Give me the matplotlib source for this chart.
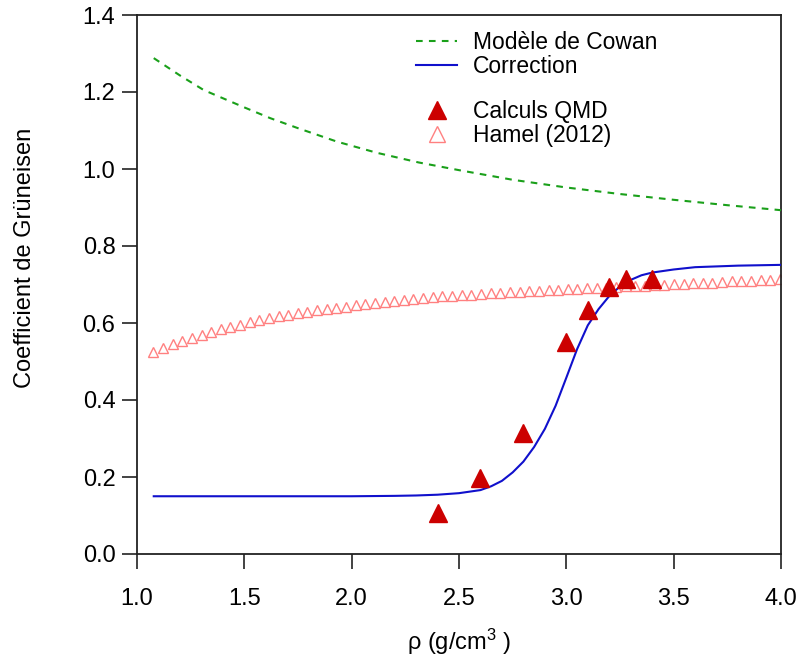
import matplotlib
matplotlib.use("Agg")
import matplotlib.pyplot as plt
from matplotlib.lines import Line2D

plt.rcParams['font.family'] = ['Liberation Sans', 'DejaVu Sans']
plt.rcParams['mathtext.fontset'] = 'custom'
plt.rcParams['mathtext.rm'] = 'Liberation Sans'
plt.rcParams['mathtext.it'] = 'Liberation Sans'

# Cowan model
cowan_rho = [1.078, 1.2, 1.311, 1.5, 1.621, 1.75, 1.932, 2.118, 2.312, 2.5, 2.75, 3.0, 3.25, 3.5, 3.75, 4.0]
cowan_g = [1.288, 1.243, 1.205, 1.160, 1.132, 1.106, 1.071, 1.042, 1.017, 0.997, 0.972, 0.952,
           0.935, 0.920, 0.906, 0.893]

# Correction
corr_rho = [1.078, 1.5, 2.0, 2.2, 2.3, 2.4, 2.5, 2.6, 2.65, 2.7, 2.75, 2.8, 2.85, 2.9, 2.95,
            3.0, 3.05, 3.1, 3.15, 3.2, 3.25, 3.3, 3.35, 3.4, 3.5, 3.6, 3.8, 4.0]
corr_g = [0.150, 0.150, 0.150, 0.151, 0.152, 0.154, 0.158, 0.166, 0.176, 0.190, 0.212, 0.240,
          0.278, 0.325, 0.385, 0.458, 0.532, 0.594, 0.636, 0.670, 0.695, 0.712, 0.724, 0.731,
          0.739, 0.745, 0.749, 0.751]

# QMD calculations
qmd_rho = [2.40, 2.60, 2.80, 3.00, 3.10, 3.20, 3.28, 3.40]
qmd_g = [0.107, 0.197, 0.314, 0.551, 0.635, 0.693, 0.713, 0.713]

# Hamel (2012)
hamel_rho = [1.076, 1.121, 1.166, 1.211, 1.256, 1.301, 1.345, 1.390, 1.435, 1.480,
             1.525, 1.570, 1.615, 1.660, 1.705, 1.750, 1.794, 1.839, 1.884, 1.929,
             1.974, 2.019, 2.064, 2.109, 2.154, 2.199, 2.243, 2.288, 2.333, 2.378,
             2.423, 2.468, 2.513, 2.558, 2.603, 2.648, 2.692, 2.737, 2.782, 2.827,
             2.872, 2.917, 2.962, 3.007, 3.052, 3.097, 3.142, 3.186, 3.231, 3.276,
             3.321, 3.366, 3.411, 3.456, 3.501, 3.546, 3.591, 3.635, 3.680, 3.725,
             3.770, 3.815, 3.860, 3.905, 3.950, 3.995]
hamel_g = [0.525, 0.535, 0.545, 0.554, 0.562, 0.570, 0.577, 0.584, 0.590, 0.596,
           0.602, 0.607, 0.612, 0.617, 0.621, 0.625, 0.629, 0.633, 0.636, 0.639,
           0.642, 0.646, 0.649, 0.652, 0.655, 0.657, 0.660, 0.662, 0.664, 0.667,
           0.670, 0.671, 0.673, 0.674, 0.676, 0.677, 0.678, 0.680, 0.681, 0.682,
           0.684, 0.685, 0.686, 0.688, 0.689, 0.690, 0.691, 0.692, 0.694, 0.695,
           0.696, 0.697, 0.698, 0.700, 0.701, 0.702, 0.703, 0.704, 0.705, 0.707,
           0.708, 0.709, 0.710, 0.711, 0.712, 0.713]

xticks = [1.0, 1.5, 2.0, 2.5, 3.0, 3.5, 4.0]
yticks = [0.0, 0.2, 0.4, 0.6, 0.8, 1.0, 1.2, 1.4]

GREEN = '#1aa01a'
BLUE = '#1010cc'
RED = '#cc0000'
PINK = '#ff8080'

fig = plt.figure(figsize=(8.01, 6.68), dpi=100)
ax = fig.add_axes([137/801, (668-554)/668, (781-137)/801, (554-15)/668])

ax.plot(hamel_rho, hamel_g, linestyle='none', marker='^', ms=7, mfc='none',
        mec=PINK, mew=1.0, zorder=2)
ax.plot(cowan_rho, cowan_g, linestyle=(0, (3.2, 3.0)), color=GREEN, lw=1.5, zorder=3)
ax.plot(corr_rho, corr_g, linestyle='-', color=BLUE, lw=1.5, zorder=3)
ax.plot(qmd_rho, qmd_g, linestyle='none', marker='^', ms=12.5, color=RED,
        mec=RED, zorder=4)

ax.set_xlim(1.0, 4.0)
ax.set_ylim(0.0, 1.4)
ax.set_xticks(xticks)
ax.set_xticklabels([f'{v:.1f}' for v in xticks])
ax.set_yticks(yticks)
ax.set_yticklabels([f'{v:.1f}' for v in yticks])
ax.tick_params(direction='out', length=10.5, width=1.2, labelsize=17,
               colors='#222222', labelcolor='black')
ax.tick_params(axis='y', pad=5)
ax.tick_params(axis='x', pad=14)
for s in ax.spines.values():
    s.set_linewidth(1.3)
    s.set_color('#222222')

ax.set_xlabel(r'ρ (g/cm$^{3}$ )', fontsize=17)
ax.xaxis.set_label_coords(0.5, -0.135)
ax.set_ylabel('Coefficient de Grüneisen', fontsize=17)
ax.yaxis.set_label_coords(-0.157, 0.55)

h1 = [Line2D([], [], linestyle=(0, (3.2, 3.0)), color=GREEN, lw=1.5),
      Line2D([], [], color=BLUE, lw=1.5)]
leg1 = ax.legend(h1, ['Modèle de Cowan', 'Correction'], loc='upper left',
                 bbox_to_anchor=(0.434, 0.970), frameon=False, fontsize=16.5,
                 handlelength=1.75, handletextpad=0.7, labelspacing=0.05,
                 borderpad=0, borderaxespad=0)
ax.add_artist(leg1)
h2 = [Line2D([], [], linestyle='none', marker='^', ms=12.5, color=RED),
      Line2D([], [], linestyle='none', marker='^', ms=11, mfc='none', mec=PINK, mew=1.0)]
ax.legend(h2, ['Calculs QMD', 'Hamel (2012)'], loc='upper left',
          bbox_to_anchor=(0.434, 0.842), frameon=False, fontsize=16.5,
          handlelength=1.75, handletextpad=0.7, labelspacing=0.05,
          borderpad=0, borderaxespad=0)

fig.savefig('out.png', dpi=100)
